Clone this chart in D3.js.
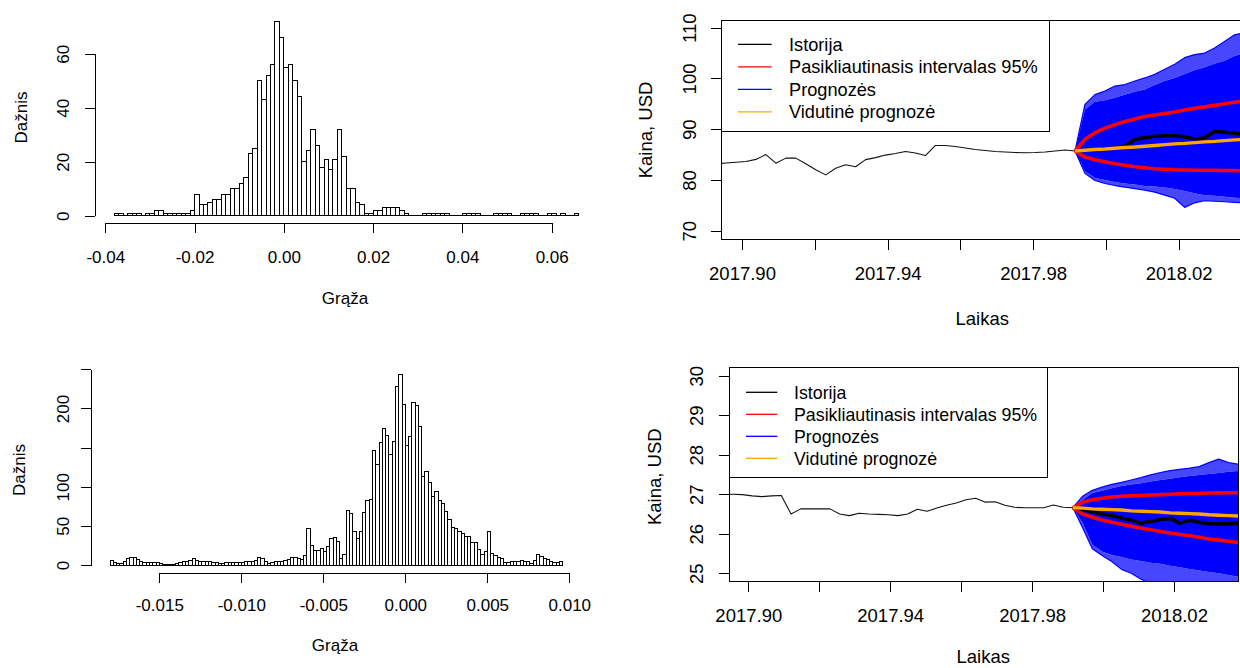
<!DOCTYPE html>
<html>
<head>
<meta charset="utf-8">
<script src="https://cdn.jsdelivr.net/npm/d3@7"></script>
<style>
  html, body { margin: 0; padding: 0; background: #fff; }
  svg { display: block; font-family: "Liberation Sans", Arial, sans-serif; }
</style>
</head>
<body>
<svg id="chart" width="1240" height="668"></svg>
<script>
// ---------- Histogram of returns (upper panel) ----------
const retAStart = -0.038;
const retABinWidth = 0.001;
const retACounts = [
  1,1,0,1,1,1,0,1,1,2,2,1,1,1,1,1,1,2,
  8,4,4,5,6,6,8,8,10,10,12,14,23,25,50,43,52,56,72,66,55,56,50,44,20,24,32,26,18,21,17,21,32,22,10,10,5,4,1,1,2,2,
  3,3,3,3,2,1,0,0,0,1,1,1,1,1,1,0,0,0,1,1,1,1,0,0,0,1,1,1,1,0,0,1,1,1,1,0,0,1,1,0,1,0,0,1
];
const retAXTicks = [-0.04, -0.02, 0.00, 0.02, 0.04, 0.06];
const retAYTicks = [0, 20, 40, 60];

// ---------- Histogram of returns (lower panel) ----------
const retBStart = -0.018;
const retBBinWidth = 0.0002;
const retBCounts = [
  6,3,2,2,4,8,9,9,7,4,3,3,3,3,3,2,1,1,1,1,2,3,4,5,6,8,6,5,5,4,4,3,3,2,2,3,3,3,3,3,3,4,5,5,6,10,8,4,2,3,4,5,
  5,6,7,10,10,8,7,12,
  46,25,18,18,21,17,23,34,35,30,8,13,
  69,66,43,34,43,67,82,84,146,129,156,175,165,141,158,228,243,
  205,153,164,207,204,177,113,120,106,88,94,83,78,68,58,48,47,43,40,36,36,29,29,20,13,17,43,
  15,12,10,8,3,3,5,5,4,6,5,4,2,6,14,11,8,7,5,3,3,4
];
const retBXTicks = [-0.015, -0.010, -0.005, 0.000, 0.005, 0.010];
const retBYTicks = [0, 50, 100, 150, 200, 250];
const retBYLabelled = [0, 50, 100, 200];

// ---------- Price paths: shared time axis ----------
const forecastStart = 2017.9915;   // first forecast day (decimal year)
const dayStep = 1 / 365;
const timeTicks = [2017.90, 2017.92, 2017.94, 2017.96, 2017.98, 2018.00, 2018.02];
const timeLabelled = [2017.90, 2017.94, 2017.98, 2018.02];

// Upper price panel (days -36..0 history, days 0..17 forecast)
const priceAHistory = [83.2,83.35,83.5,83.65,84.05,85.0,83.3,84.3,84.3,83.2,82.0,81.0,82.3,83.0,82.6,84.0,84.4,84.9,85.2,85.6,85.3,84.8,86.8,86.8,86.6,86.3,86.0,85.8,85.6,85.5,85.4,85.35,85.4,85.5,85.7,85.9,85.7];
const priceAUpper95 = [85.7,88.0,89.3,90.2,90.9,91.5,92.0,92.5,92.8,93.1,93.4,93.8,94.1,94.4,94.7,95.0,95.3,95.6];
const priceALower95 = [85.7,84.5,84.0,83.6,83.2,82.9,82.6,82.4,82.2,82.1,82.0,81.95,81.9,81.9,81.9,81.85,81.85,81.8];
const priceAMean = [85.7,85.85,86.0,86.1,86.25,86.4,86.5,86.65,86.8,86.95,87.1,87.2,87.35,87.5,87.6,87.75,87.9,88.0];
const priceAActual = [85.7,85.85,86.0,86.15,86.3,86.6,88.0,88.3,88.6,88.7,88.7,88.5,88.0,88.3,89.6,89.4,89.2,89.0];
const priceASimHigh = [85.7,93.9,95.4,95.7,96.2,96.8,97.4,97.8,98.7,99.5,100.1,100.9,101.6,102.2,102.9,103.5,104.4,105.1];
const priceASimHighEdge = [85.7,94.9,96.8,97.5,98.5,98.8,99.5,100.1,100.8,101.8,102.8,104.1,104.7,105.0,106.0,107.3,108.6,109.0];
const priceASimLow = [85.7,81.7,80.4,80.0,79.6,79.3,79.1,78.8,78.7,78.5,78.2,77.8,77.4,77.0,76.9,76.7,76.5,76.4];
const priceASimLowEdge = [85.7,81.3,79.9,79.3,78.9,78.6,78.3,78.0,77.6,77.0,76.4,74.6,75.5,75.9,75.8,75.7,75.6,75.5];
const priceAYTicks = [70, 80, 90, 100, 110];

// Lower price panel
const priceBHistory = [27.0,27.0,26.99,26.96,26.94,26.96,26.97,26.5,26.63,26.63,26.63,26.63,26.5,26.46,26.52,26.5,26.49,26.48,26.46,26.5,26.62,26.57,26.65,26.72,26.78,26.86,26.9,26.8,26.81,26.72,26.67,26.66,26.66,26.66,26.73,26.67,26.66];
const priceBUpper95 = [26.66,26.80,26.86,26.90,26.93,26.95,26.96,26.97,26.98,26.99,27.00,27.01,27.02,27.02,27.03,27.03,27.04,27.04];
const priceBLower95 = [26.66,26.50,26.42,26.35,26.29,26.24,26.19,26.14,26.10,26.06,26.02,25.98,25.95,25.91,25.87,25.84,25.81,25.78];
const priceBMean = [26.66,26.65,26.63,26.62,26.61,26.60,26.58,26.57,26.56,26.55,26.53,26.52,26.51,26.50,26.48,26.47,26.46,26.45];
const priceBActual = [26.66,26.62,26.55,26.50,26.46,26.40,26.34,26.27,26.31,26.36,26.39,26.27,26.34,26.29,26.25,26.25,26.25,26.27];
const priceBSimHigh = [26.66,26.86,27.03,27.09,27.15,27.21,27.25,27.28,27.32,27.36,27.39,27.43,27.46,27.49,27.51,27.54,27.57,27.59];
const priceBSimHighEdge = [26.66,26.95,27.1,27.18,27.25,27.3,27.36,27.42,27.49,27.55,27.6,27.63,27.66,27.7,27.8,27.89,27.8,27.76];
const priceBSimLow = [26.66,26.27,25.72,25.55,25.46,25.41,25.35,25.31,25.27,25.24,25.19,25.15,25.11,25.07,25.03,25.0,24.96,24.91];
const priceBSimLowEdge = [26.66,26.15,25.62,25.45,25.3,25.1,25.0,24.85,24.75,24.7,24.7,24.65,24.65,24.6,24.6,24.6,24.6,24.6];
const priceBYTicks = [25, 26, 27, 28, 29, 30];

const legendItems = [
  { label: "Istorija", color: "#000000" },
  { label: "Pasikliautinasis intervalas 95%", color: "#ff0000" },
  { label: "Prognozės", color: "#0000ff" },
  { label: "Vidutinė prognozė", color: "#ffa500" }
];

const svg = d3.select("#chart");
const FONT = "'Liberation Sans', Arial, sans-serif";

function styleAxis(g, size) {
  g.attr("font-family", FONT).attr("font-size", size);
  g.selectAll("path, line").attr("stroke", "#000").attr("shape-rendering", "crispEdges");
  g.selectAll("text").attr("fill", "#000");
}

function drawHistogram(o) {
  const x = d3.scaleLinear().domain([o.xTicks[0], o.xTicks[o.xTicks.length - 1]]).range(o.xRange);
  const y = d3.scaleLinear().domain([o.yTicks[0], o.yTicks[o.yTicks.length - 1]]).range(o.yRange);
  const g = svg.append("g");
  const bins = o.counts.map((n, i) => ({ x0: o.start + i * o.width, x1: o.start + (i + 1) * o.width, n }));

  // empty bins collapse to a segment on the baseline
  g.append("g").selectAll("line").data(bins.filter(d => d.n === 0)).join("line")
    .attr("x1", d => x(d.x0)).attr("x2", d => x(d.x1))
    .attr("y1", y(0)).attr("y2", y(0))
    .attr("stroke", "#000").attr("stroke-width", 1).attr("shape-rendering", "crispEdges");

  g.append("g").selectAll("rect").data(bins.filter(d => d.n > 0)).join("rect")
    .attr("x", d => x(d.x0))
    .attr("y", d => y(d.n))
    .attr("width", d => x(d.x1) - x(d.x0))
    .attr("height", d => y(0) - y(d.n))
    .attr("fill", "#fff")
    .attr("stroke", "#000")
    .attr("stroke-width", 1)
    .attr("shape-rendering", "crispEdges");

  const xa = g.append("g").attr("transform", `translate(0,${o.xAxisY})`)
    .call(d3.axisBottom(x).tickValues(o.xTicks).tickSizeInner(10).tickSizeOuter(0).tickFormat(o.xFormat));
  styleAxis(xa, o.fontSize);
  xa.selectAll(".tick text").attr("y", o.xLabelOffset).attr("dy", "0.36em");

  const ya = g.append("g").attr("transform", `translate(${o.yAxisX},0)`)
    .call(d3.axisLeft(y).tickValues(o.yTicks).tickSizeInner(10).tickSizeOuter(0)
      .tickFormat(d => o.yLabelled.includes(d) ? String(d) : ""));
  styleAxis(ya, o.fontSize);
  ya.selectAll(".tick text")
    .attr("x", null).attr("dy", "0.36em")
    .attr("text-anchor", "middle")
    .attr("transform", `translate(${-o.yLabelOffset},0) rotate(-90)`);

  g.append("text").attr("x", o.xTitle[0]).attr("y", o.xTitle[1]).attr("dy", "0.36em")
    .attr("text-anchor", "middle").attr("font-size", o.titleSize).attr("font-family", FONT).text("Grąža");
  g.append("text").attr("transform", `translate(${o.yTitle[0]},${o.yTitle[1]}) rotate(-90)`)
    .attr("dy", "0.36em").attr("text-anchor", "middle").attr("font-size", o.titleSize)
    .attr("font-family", FONT).text("Dažnis");
}

function drawPricePanel(o, id) {
  const x = d3.scaleLinear().domain([timeTicks[0], timeTicks[timeTicks.length - 1]]).range(o.xRange);
  const y = d3.scaleLinear().domain([o.yTicks[0], o.yTicks[o.yTicks.length - 1]]).range(o.yRange);
  const box = o.box; // [left, top, right, bottom]
  const g = svg.append("g");

  svg.append("defs").append("clipPath").attr("id", id)
    .append("rect").attr("x", box[0]).attr("y", box[1])
    .attr("width", box[2] - box[0]).attr("height", box[3] - box[1]);

  const plot = g.append("g").attr("clip-path", `url(#${id})`);
  const histT = o.history.map((v, i) => ({ t: forecastStart + (i - (o.history.length - 1)) * dayStep, v }));
  const fc = arr => arr.map((v, k) => ({ t: forecastStart + k * dayStep, v }));
  const line = d3.line().x(d => x(d.t)).y(d => y(d.v));

  // simulated paths: dense core plus frayed outer band
  const band = (hi, lo) => hi.map((h, k) => ({ t: forecastStart + k * dayStep, hi: h, lo: lo[k] }));
  const area = d3.area().x(d => x(d.t)).y0(d => y(d.lo)).y1(d => y(d.hi));
  plot.append("path").datum(band(o.simHighEdge, o.simHigh)).attr("d", area)
    .attr("fill", "#0000ff").attr("fill-opacity", 0.72);
  plot.append("path").datum(band(o.simLow, o.simLowEdge)).attr("d", area)
    .attr("fill", "#0000ff").attr("fill-opacity", 0.72);
  plot.append("path").datum(band(o.simHigh, o.simLow)).attr("d", area).attr("fill", "#0000ff");
  [o.simHighEdge, o.simLowEdge].forEach(arr => {
    plot.append("path").datum(fc(arr)).attr("d", line)
      .attr("fill", "none").attr("stroke", "#0000ff").attr("stroke-width", 1.2).attr("stroke-linejoin", "round");
  });

  // history
  plot.append("path").datum(histT).attr("d", line)
    .attr("fill", "none").attr("stroke", "#111").attr("stroke-width", 1.1).attr("stroke-linejoin", "round");

  // confidence bounds, realised path, mean forecast
  [o.upper95, o.lower95].forEach(arr => {
    plot.append("path").datum(fc(arr)).attr("d", line)
      .attr("fill", "none").attr("stroke", "#ff0000").attr("stroke-width", 3.6).attr("stroke-linejoin", "round");
  });
  plot.append("path").datum(fc(o.actual)).attr("d", line)
    .attr("fill", "none").attr("stroke", "#000").attr("stroke-width", 3.6).attr("stroke-linejoin", "round");
  plot.append("path").datum(fc(o.mean)).attr("d", line)
    .attr("fill", "none").attr("stroke", "#ffa500").attr("stroke-width", 3.4).attr("stroke-linejoin", "round");

  // frame
  g.append("rect").attr("x", box[0]).attr("y", box[1])
    .attr("width", box[2] - box[0]).attr("height", box[3] - box[1])
    .attr("fill", "none").attr("stroke", "#000").attr("stroke-width", 1).attr("shape-rendering", "crispEdges");

  // axes (the frame already provides the axis lines)
  const xa = g.append("g").attr("transform", `translate(0,${box[3]})`)
    .call(d3.axisBottom(x).tickValues(timeTicks).tickSizeInner(10.5).tickSizeOuter(0)
      .tickFormat(d => timeLabelled.includes(d) ? d.toFixed(2) : ""));
  styleAxis(xa, o.fontSize);
  xa.select(".domain").remove();
  xa.selectAll(".tick text").attr("y", o.xLabelOffset).attr("dy", "0.36em");

  const ya = g.append("g").attr("transform", `translate(${box[0]},0)`)
    .call(d3.axisLeft(y).tickValues(o.yTicks).tickSizeInner(10.5).tickSizeOuter(0).tickFormat(d => String(d)));
  styleAxis(ya, o.fontSize);
  ya.select(".domain").remove();
  ya.selectAll(".tick text")
    .attr("x", null).attr("dy", "0.36em").attr("text-anchor", "middle")
    .attr("transform", `translate(${-o.yLabelOffset},0) rotate(-90)`);

  // titles
  g.append("text").attr("x", o.xTitle[0]).attr("y", o.xTitle[1]).attr("dy", "0.36em")
    .attr("text-anchor", "middle").attr("font-size", o.fontSize).attr("font-family", FONT).text("Laikas");
  g.append("text").attr("transform", `translate(${o.yTitle[0]},${o.yTitle[1]}) rotate(-90)`)
    .attr("dy", "0.36em").attr("text-anchor", "middle").attr("font-size", o.fontSize)
    .attr("font-family", FONT).text("Kaina, USD");

  // legend
  const L = o.legend;
  const lg = g.append("g");
  lg.append("rect").attr("x", box[0]).attr("y", box[1]).attr("width", L.right - box[0]).attr("height", L.bottom - box[1])
    .attr("fill", "#fff").attr("stroke", "#000").attr("stroke-width", 1).attr("shape-rendering", "crispEdges");
  const rows = lg.selectAll("g.row").data(legendItems).join("g").attr("class", "row")
    .attr("transform", (d, i) => `translate(0,${L.firstRow + i * L.rowStep})`);
  rows.append("line").attr("x1", L.lineX[0]).attr("x2", L.lineX[1]).attr("y1", 0).attr("y2", 0)
    .attr("stroke", d => d.color).attr("stroke-width", 1.3);
  rows.append("text").attr("x", L.textX).attr("y", 0).attr("dy", "0.36em")
    .attr("font-size", o.legendSize).attr("font-family", FONT).attr("fill", "#000").text(d => d.label);
}

drawHistogram({
  counts: retACounts, start: retAStart, width: retABinWidth,
  xTicks: retAXTicks, yTicks: retAYTicks, yLabelled: retAYTicks,
  xRange: [105.3, 551.7], yRange: [215.7, 53.7],
  xAxisY: 223.3, yAxisX: 95, xLabelOffset: 33.7, yLabelOffset: 31.7,
  xFormat: d => d.toFixed(2), fontSize: 17, titleSize: 17,
  xTitle: [345, 298], yTitle: [20.7, 117.5]
});

drawHistogram({
  counts: retBCounts, start: retBStart, width: retBBinWidth,
  xTicks: retBXTicks, yTicks: retBYTicks, yLabelled: retBYLabelled,
  xRange: [159.3, 569.3], yRange: [565, 369.3],
  xAxisY: 572.7, yAxisX: 91, xLabelOffset: 32.3, yLabelOffset: 28.5,
  xFormat: d => d.toFixed(3), fontSize: 17, titleSize: 17,
  xTitle: [335, 645], yTitle: [19, 470]
});

drawPricePanel({
  history: priceAHistory, upper95: priceAUpper95, lower95: priceALower95, mean: priceAMean, actual: priceAActual,
  simHigh: priceASimHigh, simHighEdge: priceASimHighEdge, simLow: priceASimLow, simLowEdge: priceASimLowEdge,
  yTicks: priceAYTicks, xRange: [742, 1178.7], yRange: [230.7, 27.7],
  box: [721.7, 20, 1243, 239], xLabelOffset: 34.3, yLabelOffset: 32.7,
  fontSize: 18.5, legendSize: 18.2,
  xTitle: [982.3, 318.3], yTitle: [645.5, 130],
  legend: { right: 1049, bottom: 131.7, lineX: [738, 771.7], textX: 789, firstRow: 44.3, rowStep: 22.5 }
}, "clipA");

drawPricePanel({
  history: priceBHistory, upper95: priceBUpper95, lower95: priceBLower95, mean: priceBMean, actual: priceBActual,
  simHigh: priceBSimHigh, simHighEdge: priceBSimHighEdge, simLow: priceBSimLow, simLowEdge: priceBSimLowEdge,
  yTicks: priceBYTicks, xRange: [748.3, 1174], yRange: [573.3, 375.7],
  box: [729.3, 367.7, 1238, 581.7], xLabelOffset: 33.3, yLabelOffset: 32.6,
  fontSize: 18.5, legendSize: 17.8,
  xTitle: [983.3, 656.5], yTitle: [654.3, 476.7],
  legend: { right: 1047.7, bottom: 477, lineX: [746, 777.3], textX: 794, firstRow: 392.3, rowStep: 22 }
}, "clipB");
</script>
</body>
</html>
